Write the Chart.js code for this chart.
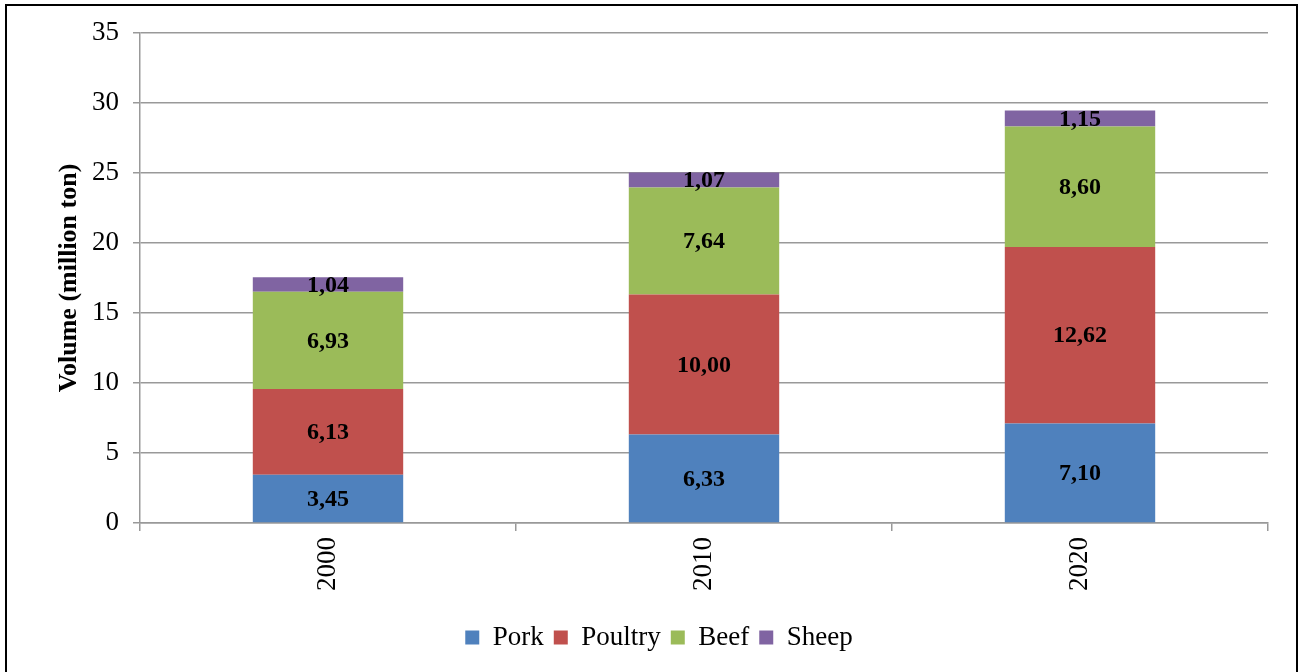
<!DOCTYPE html>
<html>
<head>
<meta charset="utf-8">
<script src="https://cdn.jsdelivr.net/npm/chart.js@4.4.1/dist/chart.umd.min.js"></script>
<style>
  html, body { margin: 0; padding: 0; background: #fff; overflow: hidden; }
  #wrap { position: relative; width: 1299px; height: 672px; overflow: hidden; }
  #frame { position: absolute; left: 5px; top: 4px; width: 1293px; height: 720px; border: 2px solid #000; box-sizing: border-box; pointer-events: none; }
  canvas { position: absolute; left: 0; top: 0; }
</style>
</head>
<body>
<div id="wrap">
  <canvas id="meat" width="1299" height="672"></canvas>
  <div id="frame"></div>
</div>
<script>
// values (million ton)
const years = ['2000', '2010', '2020'];
const pork = [3.45, 6.33, 7.10];
const poultry = [6.13, 10.00, 12.62];
const beef = [6.93, 7.64, 8.60];
const sheep = [1.04, 1.07, 1.15];

const serif = '"Liberation Serif", "Times New Roman", serif';

// draw the value in the middle of every segment, comma as decimal mark
const valueLabels = {
    id: 'valueLabels',
    afterDatasetsDraw(chart) {
        const ctx = chart.ctx;
        ctx.save();
        ctx.font = 'bold 24px ' + serif;
        ctx.fillStyle = '#000';
        ctx.textAlign = 'center';
        ctx.textBaseline = 'middle';
        chart.data.datasets.forEach((ds, i) => {
            chart.getDatasetMeta(i).data.forEach((bar, j) => {
                const p = bar.getCenterPoint();
                ctx.fillText(ds.data[j].toFixed(2).replace('.', ','), p.x, p.y + 1);
            });
        });
        ctx.restore();
    }
};

const ctx = document.getElementById('meat');
new Chart(ctx, {
    type: 'bar',
    data: {
        labels: years,
        datasets: [
            { label: 'Pork', data: pork, backgroundColor: '#4F81BD' },
            { label: 'Poultry', data: poultry, backgroundColor: '#C0504D' },
            { label: 'Beef', data: beef, backgroundColor: '#9BBB59' },
            { label: 'Sheep', data: sheep, backgroundColor: '#8064A2' }
        ]
    },
    options: {
        responsive: false,
        animation: false,
        devicePixelRatio: 1,
        layout: { padding: { left: 50, right: 31, top: 33, bottom: 11 } },
        datasets: { bar: { categoryPercentage: 1, barPercentage: 0.4 } },
        plugins: {
            tooltip: { enabled: false },
            legend: {
                position: 'bottom',
                labels: {
                    font: { family: serif, size: 27 },
                    color: '#000',
                    boxWidth: 14,
                    boxHeight: 14,
                    padding: 10
                }
            }
        },
        scales: {
            x: {
                stacked: true,
                afterFit(scale) { scale.height = 91; },
                grid: { offset: true, drawOnChartArea: false, color: '#999', tickLength: 8, lineWidth: 1.5 },
                border: { color: '#999', width: 1.5 },
                ticks: {
                    font: { family: serif, size: 27 },
                    color: '#000',
                    minRotation: 90,
                    maxRotation: 90,
                    padding: 6
                }
            },
            y: {
                stacked: true,
                min: 0,
                max: 35,
                afterFit(scale) { scale.width = 90; },
                grid: { color: '#999', tickLength: 7, lineWidth: 1.5 },
                border: { color: '#999', width: 1.5 },
                ticks: {
                    stepSize: 5,
                    font: { family: serif, size: 27 },
                    color: '#000',
                    padding: 14
                },
                title: {
                    display: true,
                    text: 'Volume (million ton)',
                    font: { family: serif, size: 26, weight: 'bold' },
                    color: '#000',
                    padding: { top: 4, bottom: 0 }
                }
            }
        }
    },
    plugins: [valueLabels]
});
</script>
</body>
</html>
